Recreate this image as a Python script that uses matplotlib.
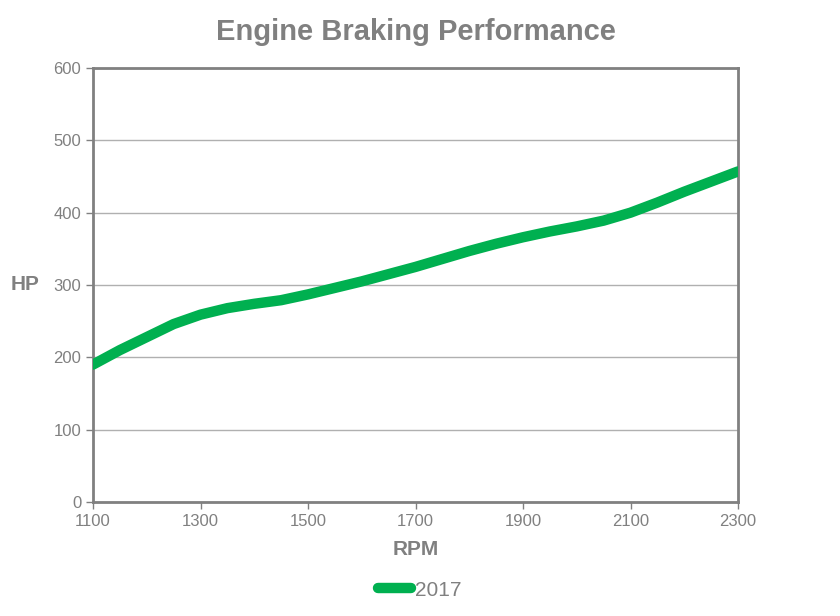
import matplotlib.pyplot as plt

# values every 50 RPM
rpm = [1100, 1150, 1200, 1250, 1300, 1350, 1400, 1450, 1500, 1550, 1600, 1650, 1700,
       1750, 1800, 1850, 1900, 1950, 2000, 2050, 2100, 2150, 2200, 2250, 2300]
hp = [190, 210, 228, 246, 259, 268, 274, 279, 287, 296, 305, 315, 325,
      336, 347, 357, 366, 374, 381, 389, 400, 414, 429, 443, 457]

plt.rcParams['font.family'] = ['Liberation Sans', 'DejaVu Sans']
gray = '#808080'

fig = plt.figure(figsize=(8.4, 6.16), dpi=100)
ax = fig.add_axes([93 / 840, 1 - 502 / 616, (738 - 93) / 840, (502 - 68) / 616])

ax.plot(rpm, hp, color='#00B050', linewidth=7.5, solid_capstyle='round',
        solid_joinstyle='round', label='2017', zorder=3)

ax.set_xlim(1100, 2300)
ax.set_ylim(0, 600)
ax.set_xticks(range(1100, 2301, 200))
ax.set_yticks(range(0, 601, 100))
ax.grid(axis='y', color='#b0b0b0', linewidth=1)
ax.set_axisbelow(True)

for s in ax.spines.values():
    s.set_color(gray)
    s.set_linewidth(2)

ax.tick_params(colors=gray, labelsize=12, length=5, width=1, labelcolor=gray)

ax.set_title('Engine Braking Performance', fontsize=21, fontweight='bold', color=gray, pad=20)
ax.set_xlabel('RPM', fontsize=15, fontweight='bold', color=gray, labelpad=8)
ax.set_ylabel('HP', fontsize=15, fontweight='bold', color=gray, rotation=0, labelpad=20, va='center')

fig.legend(loc='center', bbox_to_anchor=(0.5, 1 - 590 / 616), frameon=False,
           fontsize=15, handlelength=1.6, handletextpad=0.2, labelcolor=gray)

fig.savefig('out.png', dpi=100, facecolor='white')
